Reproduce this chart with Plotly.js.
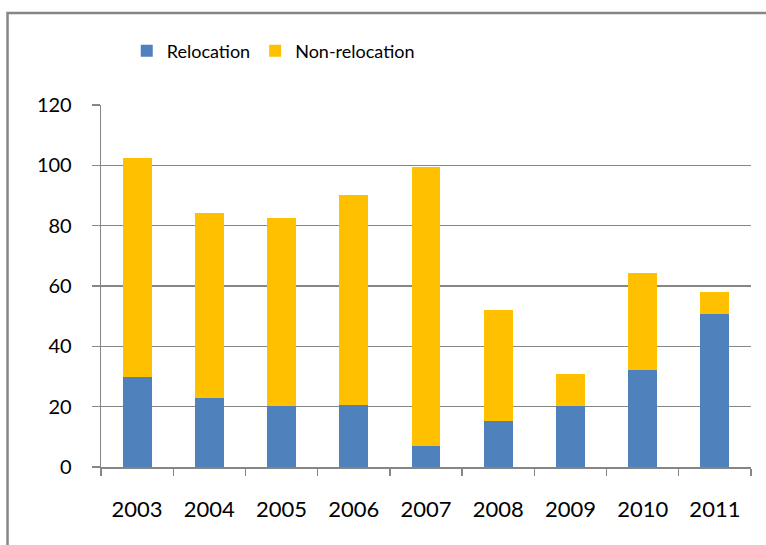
<!DOCTYPE html>
<html>
<head>
<meta charset="utf-8">
<script src="https://cdn.plot.ly/plotly-3.0.1.min.js"></script>
<style>html,body{margin:0;padding:0;background:#fff;}#chart{width:766px;height:545px;}</style>
</head>
<body>
<div id="chart"></div>
<script>
var years = ['2003','2004','2005','2006','2007','2008','2009','2010','2011'];
var relocation = [30, 23, 20.3, 20.7, 7.1, 15.4, 20.3, 32.3, 50.8];
var nonRelocation = [72.3, 61.3, 62.1, 69.6, 92.2, 36.8, 10.6, 32.1, 7.3];
var yTicks = [0, 20, 40, 60, 80, 100, 120];

var traces = [
  {type:'bar', name:'Relocation', x:years, y:relocation, marker:{color:'#4F81BD'}, width:0.4},
  {type:'bar', name:'Non-relocation', x:years, y:nonRelocation, marker:{color:'#FFC000'}, width:0.4}
];

var layout = {
  width:766, height:545,
  barmode:'stack',
  paper_bgcolor:'#fff', plot_bgcolor:'#fff',
  margin:{l:101, r:15, t:105, b:78, pad:0},
  font:{family:'Lato, "Open Sans", sans-serif', color:'#000'},
  showlegend:true,
  legend:{orientation:'h', x:0.265, xanchor:'center', y:1.149, yanchor:'middle',
          font:{size:18, color:'#000'}, itemwidth:30, traceorder:'normal', bgcolor:'rgba(0,0,0,0)'},
  xaxis:{type:'category', showgrid:false, showline:true, linecolor:'#868686', linewidth:2,
         ticks:'outside', tickson:'boundaries', ticklen:7, tickcolor:'#868686', tickwidth:1.3,
         tickfont:{size:22, color:'#000'}, ticklabelstandoff:22, zeroline:false},
  yaxis:{range:[0,120], tickvals:yTicks, ticktext:yTicks.map(String), showgrid:true,
         gridcolor:'#868686', gridwidth:1.3, showline:true, linecolor:'#868686', linewidth:1.3,
         ticks:'outside', ticklen:8, tickcolor:'#868686', tickwidth:1.3,
         tickfont:{size:20, color:'#000'}, ticklabelstandoff:16, zeroline:false},
  shapes:[{type:'rect', xref:'paper', yref:'paper', x0:-0.1438, x1:1.2, y0:-0.5, y1:1.254,
           line:{color:'#868686', width:2.5}, fillcolor:'rgba(0,0,0,0)', layer:'below'}],
  hovermode:false
};

Plotly.newPlot('chart', traces, layout, {displayModeBar:false, staticPlot:true});
</script>
</body>
</html>
